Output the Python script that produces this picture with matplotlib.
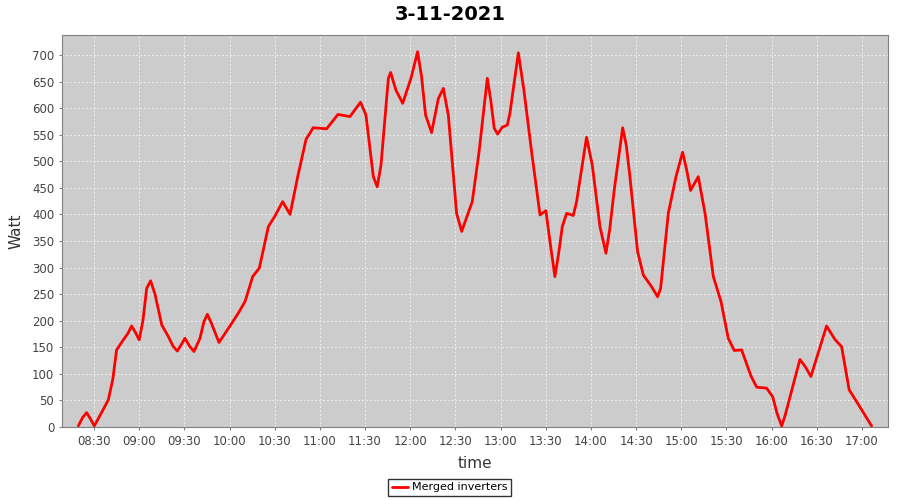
import matplotlib
matplotlib.use("Agg")
import matplotlib.pyplot as plt
from matplotlib.ticker import FixedLocator, MultipleLocator

title = "3-11-2021"
series_name = "Merged inverters"

# minutes after 08:30
minutes = [-10.4, -7.5, -4.9, -2.3, 0.2, 2.7, 5, 9.5, 12.5, 15, 19.5, 22.5, 25, 27.5,
           30, 32.5, 35, 37.6, 40.5, 45, 49.4, 52.5, 55.3, 58,
           60.4, 63.5, 66.4, 70.4, 73, 75.3, 78, 83, 90.3, 95.8, 100.3, 105.4, 109.8, 115.8,
           120.2, 125.3, 130.2, 135.3, 140.8, 145.6, 154.5, 162, 170, 177, 180.6,
           185.5, 188.1, 190.6, 195.5, 197, 200.5, 205, 210.5, 214.9, 217.5, 220.2,
           224.2, 228.7, 232, 235.3, 240.8, 244.2, 251.2, 255.7, 261.2, 263.5, 265.8,
           268.1, 271.1, 274.5, 276.2, 281.8, 285.5, 290.6, 296.2, 300.1, 303, 306.1,
           308.5, 311, 313.9, 318.3, 320.5, 327.1, 330.9, 336, 340, 342.5, 345.5, 351.1,
           353.5, 355.9, 361, 364.8, 370.3, 374.3, 376.3, 381.4, 386.5, 390.9, 393.5,
           396.2, 401.3, 405.8, 411.3, 416.4, 421.2, 425.2, 430.1, 436.3, 440.1, 446.7,
           450.7, 453.7, 456.7, 459, 461.7, 468.8, 472.5, 476.1, 481.6, 486.5, 492, 496.5,
           501.5, 506.4, 516.4]
watts = [2, 18, 27, 15, 2, 15, 27, 51, 90, 145, 164, 176, 190, 178,
         164, 200, 261, 275, 250, 192, 170, 152, 143, 155,
         167, 152, 142, 167, 198, 212, 195, 159, 190, 214, 236, 283, 299, 377,
         397, 424, 400, 471, 541, 563, 561, 588, 584, 611, 587,
         471, 452, 493, 656, 667, 634, 609, 656, 706, 660, 587,
         554, 618, 637, 587, 402, 368, 424, 517, 656, 615, 562,
         551, 564, 568, 590, 704, 634, 518, 399, 407, 345, 283,
         325, 377, 402, 398, 424, 545, 493, 377, 327, 372, 446, 563,
         530, 471, 330, 286, 264, 245, 261, 402, 471, 517, 485,
         445, 471, 402, 283, 236, 167, 144, 145, 96, 75, 73,
         57, 25, 2, 22, 51, 127, 113, 95, 145, 190, 165, 151,
         70, 48, 2]

tick_labels = ["08:30", "09:00", "09:30", "10:00", "10:30", "11:00", "11:30",
               "12:00", "12:30", "13:00", "13:30", "14:00", "14:30", "15:00",
               "15:30", "16:00", "16:30", "17:00"]

def to_min(s):
    h, m = s.split(":")
    return int(h) * 60 + int(m)

base = to_min("08:30")
x = [base + m for m in minutes]
tick_pos = [to_min(s) for s in tick_labels]

fig = plt.figure(figsize=(9, 5), dpi=100)
ax = fig.add_axes([62/900, 1-427/500, (888-62)/900, (427-35)/500])
ax.set_facecolor("#cccccc")
ax.plot(x, watts, color="#ff0000", lw=2, solid_joinstyle="round",
        solid_capstyle="round", label=series_name)

ax.set_xlim(base - 21.25, base + 527.3)
ax.set_ylim(0, 737.5)
ax.xaxis.set_major_locator(FixedLocator(tick_pos))
ax.set_xticklabels(tick_labels)
ax.yaxis.set_major_locator(MultipleLocator(50))
ax.grid(True, color="#eeeeee", ls=(0, (2, 2)), lw=0.7)
ax.set_axisbelow(True)
for s in ax.spines.values():
    s.set_color("#808080")
ax.tick_params(axis="both", colors="#808080", labelcolor="#444444",
               labelsize=8.5, length=2, width=0.8)

ax.set_xlabel("time", fontsize=11, color="#333333", labelpad=6)
ax.set_ylabel("Watt", fontsize=11, color="#333333", labelpad=6)
fig.text(0.5, 1-14/500, title, ha="center", va="center",
         fontsize=14, fontweight="bold")

leg = fig.legend(loc="center", bbox_to_anchor=(449.5/900, 1-487.5/500),
                 fontsize=8, frameon=True, fancybox=False, handlelength=1.5,
                 handletextpad=0.3, borderpad=0.3, borderaxespad=0)
leg.get_frame().set_edgecolor("black")
leg.get_frame().set_linewidth(1)

fig.savefig("out.png", dpi=100)
